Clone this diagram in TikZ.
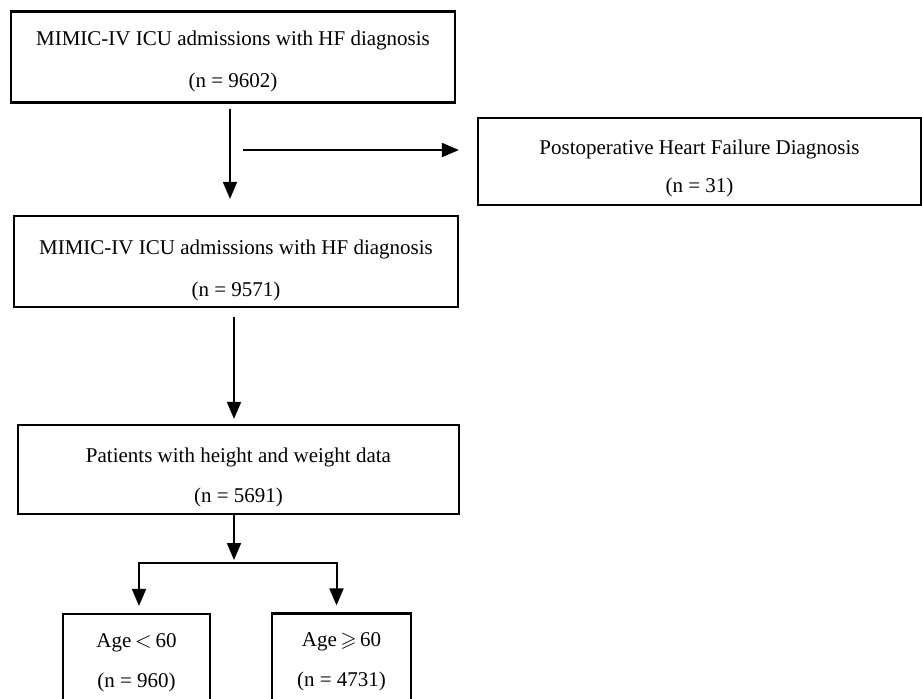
\documentclass[tikz,border=0pt]{standalone}
\usepackage{amssymb}
\usepackage{fontspec}
\setmainfont{Liberation Serif}
\usetikzlibrary{arrows.meta}
\newcommand\topstrut[1]{\rule{0pt}{#1}}
\newcommand\botstrut{\rule[-3pt]{0pt}{3pt}}
\begin{document}
\begin{tikzpicture}[x=0.5pt,y=-0.5pt,line width=1pt,>={Triangle[width=7pt,length=8.5pt]}]
  \tikzstyle{block}=[draw,rectangle,line width=1.1pt,inner sep=0pt,align=center,font=\fontsize{10.5}{21}\selectfont]
  \def\bw{222pt}	% width of the main boxes
  \def\bh{45.5pt}	% height of the boxes
  \useasboundingbox (0,0) rectangle (922,698);
  \clip (0,0) rectangle (922,698);
  \node[block,minimum width=\bw,minimum height=\bh] (icu) at (233,57) {\topstrut{12pt}MIMIC-IV ICU admissions with HF diagnosis\\(n = 9602)\botstrut};
  \node[block,minimum width=221.5pt,minimum height=43.5pt] (postop) at (699.5,161.5) {\topstrut{14.5pt}Postoperative Heart Failure Diagnosis\\[-2pt](n = 31)\botstrut};
  \node[block,minimum width=\bw,minimum height=\bh] (hf) at (236,261.5) {\topstrut{16.5pt}MIMIC-IV ICU admissions with HF diagnosis\\(n = 9571)\botstrut};
  \node[block,minimum width=220.5pt,minimum height=44.5pt] (hw) at (238.5,469.5) {\topstrut{15.5pt}Patients with height and weight data\\[-1pt](n = 5691)\botstrut};
  \node[block,minimum width=73.5pt,minimum height=46pt] (young) at (136.5,660) {\topstrut{10pt}Age\,$<$\,60\\[-1pt](n = 960)\botstrut};
  \node[block,minimum width=69.5pt,minimum height=46pt] (old) at (341.5,659.5) {\topstrut{10pt}Age\,$\geqslant$\,60\\[-1pt](n = 4731)\botstrut};
  \coordinate (excl) at (230,150);
  \coordinate (fork) at (234,563);

  \draw[->,shorten <=2.5pt,shorten >=8pt] ([xshift=-1.5pt]icu.south) -- ([xshift=-1.5pt]icu.south |- hf.north);
  \draw[->,shorten <=6.5pt,shorten >=9pt] (excl) -- (excl -| postop.west);
  \draw[->,shorten <=4.5pt,shorten >=2.5pt] ([xshift=-1pt]hf.south) -- ([xshift=-1pt]hf.south |- hw.north);
  \draw[->,shorten >=1.5pt] (fork |- hw.south) -- (fork);
  \draw[->,shorten >=3.5pt] (fork) -| ([xshift=1.25pt]young.north);
  \draw[->,shorten >=3.5pt] (fork) -| ([xshift=-2.5pt]old.north);
\end{tikzpicture}
\end{document}
